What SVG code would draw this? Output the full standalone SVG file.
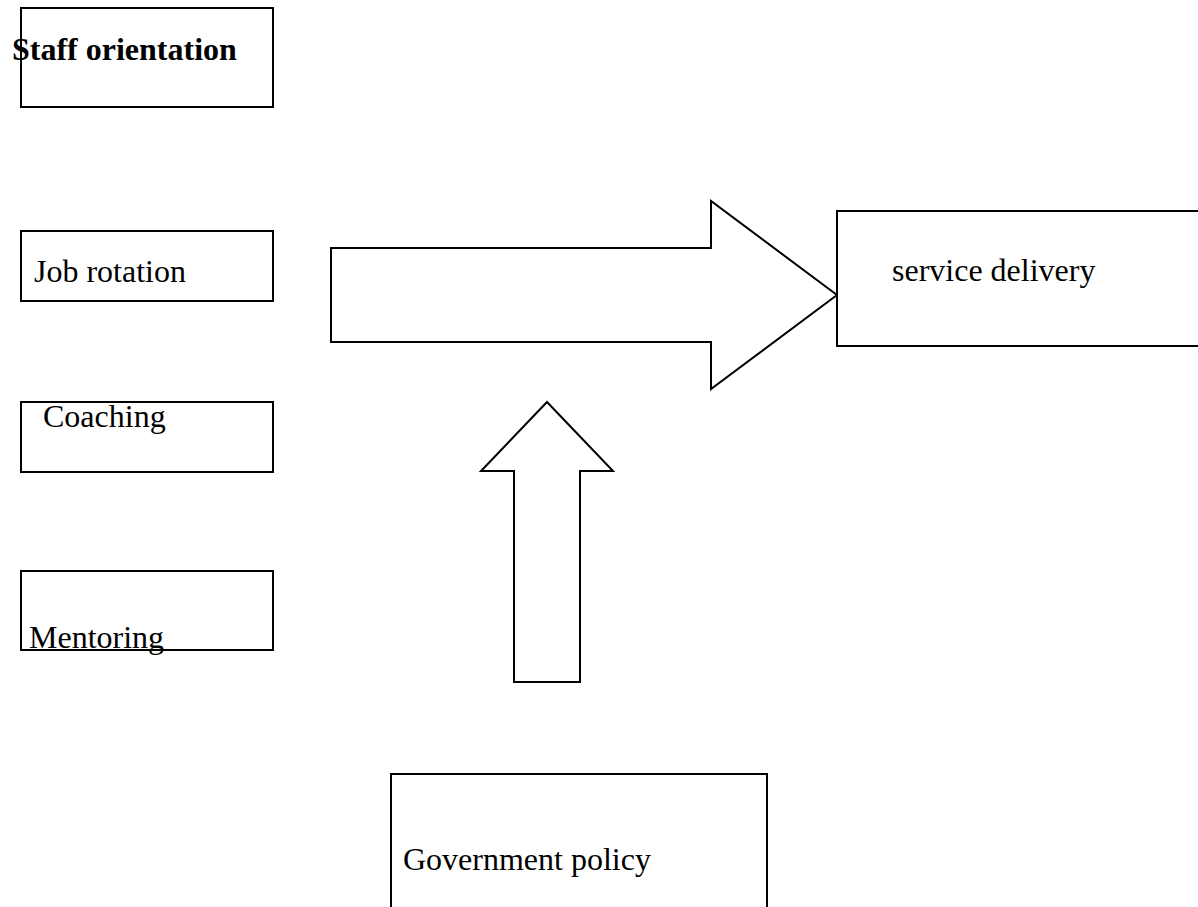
<svg xmlns="http://www.w3.org/2000/svg" width="1198" height="907" viewBox="0 0 1198 907">
<style>
.box{fill:#fff;stroke:#000;stroke-width:2}
.shape{fill:#fff;stroke:#000;stroke-width:2;stroke-linejoin:miter}
.t{font-family:"Liberation Serif","Times New Roman",serif;font-size:32px;fill:#000}
.b{font-weight:bold}
</style>
<rect width="1198" height="907" fill="#fff"/>
<g id="connectors">
<polygon class="shape" points="331,248 711,248 711,201 837,295 711,389 711,342 331,342"/>
<polygon class="shape" points="547,402 613,471 580,471 580,682 514,682 514,471 481,471"/>
</g>
<g id="staff-orientation">
<rect class="box" x="21" y="8" width="252" height="99"/>
<text class="t b" x="12" y="60">Staff orientation</text>
</g>
<g id="job-rotation">
<rect class="box" x="21" y="231" width="252" height="70"/>
<text class="t" x="34" y="282">Job rotation</text>
</g>
<g id="coaching">
<rect class="box" x="21" y="402" width="252" height="70"/>
<text class="t" x="43" y="427">Coaching</text>
</g>
<g id="mentoring">
<rect class="box" x="21" y="571" width="252" height="79"/>
<text class="t" x="29" y="648">Mentoring</text>
</g>
<g id="service-delivery">
<path class="box" d="M1199,211 H837 V346 H1199"/>
<text class="t" x="892" y="281">service delivery</text>
</g>
<g id="government-policy">
<path class="box" d="M391,908 V774 H767 V908"/>
<text class="t" x="403" y="870">Government policy</text>
</g>
</svg>
